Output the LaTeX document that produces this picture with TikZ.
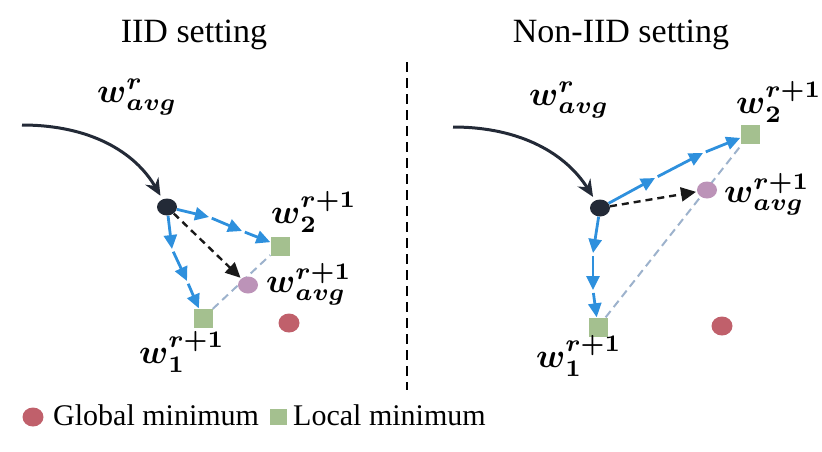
\documentclass[tikz,border=0pt]{standalone}
\usepackage{amsmath}
\usepackage{fontspec}
\setmainfont{Liberation Serif}
\newfontfamily\serifrm{Liberation Serif}
\usetikzlibrary{arrows.meta,shapes.geometric,backgrounds}
\definecolor{dotblack}{HTML}{232A37}
\definecolor{myblue}{HTML}{2E90DD}
\definecolor{mygreen}{HTML}{A4C08F}
\definecolor{mypurple}{HTML}{BC93B8}
\definecolor{myred}{HTML}{C0606B}
\definecolor{mylight}{HTML}{9DB2CC}
\newcommand{\wlab}[2]{\scalebox{3.4}{\fontsize{10}{12}\selectfont$\boldsymbol{w}^{\boldsymbol{#1}}_{\boldsymbol{#2}}$}}
\begin{document}
\begin{tikzpicture}[x=1pt,y=-1pt,
  startdot/.style={ellipse,fill=dotblack,minimum width=20pt,minimum height=17pt,inner sep=0pt},
  avgdot/.style={ellipse,fill=mypurple,minimum width=20pt,minimum height=17pt,inner sep=0pt},
  globdot/.style={ellipse,fill=myred,minimum width=21pt,minimum height=19pt,inner sep=0pt},
  locsq/.style={rectangle,fill=mygreen,minimum width=19pt,minimum height=19pt,inner sep=0pt},
  lab/.style={inner sep=0pt,anchor=base west},
  title/.style={inner sep=0pt,anchor=base,font=\serifrm\fontsize{34}{40}\selectfont},
  legtext/.style={inner sep=0pt,anchor=base west,font=\serifrm\fontsize{30}{36}\selectfont},
  curvarrow/.style={draw=dotblack,line width=3pt,-{Stealth[length=17pt,width=15pt]},shorten >=4pt},
  bluearr/.style={draw=myblue,line width=2.8pt,-{Triangle[length=14pt,width=13pt]}},
  gap/.style={shorten <=3pt},
  dasharr/.style={draw=black!90,line width=2.4pt,dash pattern=on 7pt off 5pt,-{Triangle[length=15pt,width=14pt]},shorten >=1pt},
  lightdash/.style={draw=mylight,line width=2pt,dash pattern=on 8pt off 5pt},
  divider/.style={draw=black,line width=2pt,dash pattern=on 10pt off 6pt}]
\useasboundingbox (0,0) rectangle (822,451);

% titles
\node[title] (t1) at (194,42) {IID setting};
\node[title] (t2) at (621,42) {Non-IID setting};

% divider
\coordinate (dvtop) at (407,62);
\coordinate (dvbot) at (407,390);
\draw[divider] (dvtop) -- (dvbot);

% ---------- left panel ----------
\node[startdot] (ldot) at (167,207) {};
\node[locsq] (lsq2) at (280,246) {};
\node[avgdot] (lavg) at (248,285) {};
\node[locsq] (lsq1) at (203,318) {};
\node[globdot] (lglob) at (289,323) {};

\node[lab] (lwr) at (97,102) {\wlab{r}{avg}};
\node[lab] (lw2) at (271,223) {\wlab{r+1}{2}};
\node[lab] (lwa) at (266,292) {\wlab{r+1}{avg}};
\node[lab] (lw1) at (139,363) {\wlab{r+1}{1}};

\coordinate (lc) at (22,125);
\draw[curvarrow] (lc) .. controls (90,125) and (135,152) .. (ldot);

\coordinate (lp1) at (209,217);
\coordinate (lp2) at (242,231);
\draw[bluearr] (ldot) -- (lp1);
\draw[bluearr,gap] (lp1) -- (lp2);
\draw[bluearr,gap] (lp2) -- (lsq2);

\coordinate (lq1) at (172,249);
\coordinate (lq2) at (187,281);
\draw[bluearr] (ldot) -- (lq1);
\draw[bluearr,gap] (lq1) -- (lq2);
\draw[bluearr,gap] (lq2) -- (lsq1);

\draw[dasharr] (ldot) -- (lavg);

% ---------- right panel ----------
\node[startdot] (rdot) at (600,208) {};
\node[locsq] (rsq2) at (750,134) {};
\node[avgdot] (ravg) at (707,190) {};
\node[locsq] (rsq1) at (598,327) {};
\node[globdot] (rglob) at (722,326) {};

\node[lab] (rwr) at (529,105) {\wlab{r}{avg}};
\node[lab] (rw2) at (736,113) {\wlab{r+1}{2}};
\node[lab] (rwa) at (724,202) {\wlab{r+1}{avg}};
\node[lab] (rw1) at (536,367) {\wlab{r+1}{1}};

\coordinate (rc) at (453,127);
\draw[curvarrow] (rc) .. controls (521,127) and (566,154) .. (rdot);

\coordinate (rp1) at (655,178);
\coordinate (rp2) at (703,153);
\draw[bluearr] (rdot) -- (rp1);
\draw[bluearr,gap] (rp1) -- (rp2);
\draw[bluearr,gap] (rp2) -- (rsq2);

\coordinate (rq1) at (593,253);
\coordinate (rq2) at (593,290);
\draw[bluearr] (rdot) -- (rq1);
\draw[bluearr,gap] (rq1) -- (rq2);
\draw[bluearr,gap] (rq2) -- (rsq1);

\draw[dasharr] (rdot) -- (ravg);

\begin{scope}[on background layer]
\draw[lightdash] (lsq1) -- (lsq2);
\draw[lightdash] (rsq1) -- (rsq2);
\end{scope}

% ---------- legend ----------
\node[globdot] (legglob) at (33,417) {};
\node[legtext] (legg) at (53,425) {Global minimum};
\node[locsq,minimum width=17pt,minimum height=16pt] (legloc) at (278,417) {};
\node[legtext] (legl) at (293,425) {Local minimum};
\end{tikzpicture}
\end{document}
